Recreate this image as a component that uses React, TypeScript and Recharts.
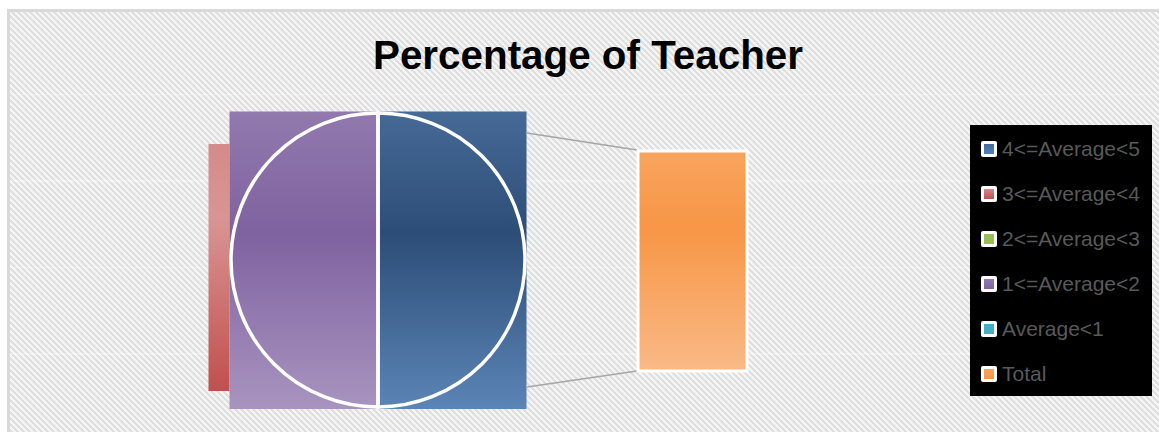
import React from "react";
import { PieChart, Pie, Legend, BarChart, Bar, XAxis, YAxis } from "recharts";

const categories = ["4<=Average<5", "3<=Average<4", "2<=Average<3", "1<=Average<2", "Average<1"];
const teacherPercent = [50, 0, 0, 50, 0];
const totalCategory = ["Total"];
const totalPercent = [100];

const legendLabels = [...categories, ...totalCategory];
const seriesColors = ["#4f81bd", "#c0504d", "#9bbb59", "#8064a2", "#4bacc6", "#f79646"];

// top / darkest / bottom stops of the office-style gradient fills
const gradientStops: Record<string, [string, string, string]> = {
  "#4f81bd": ["#466a96", "#2c4d77", "#5b85b6"],
  "#c0504d": ["#d48b89", "#d99593", "#c0504d"],
  "#8064a2": ["#9179ad", "#7f62a0", "#a894bf"],
  "#f79646": ["#f8a45e", "#f79646", "#f9b986"],
};

const pieData = categories.map((name, i) => ({ name, value: teacherPercent[i] }));
const barData = totalCategory.map((name, i) => ({ name, value: totalPercent[i] }));

const PIE_CX = 378;
const PIE_CY = 260;
const PIE_R = 147;
const BAR_LEFT = 636;
const BAR_TOP = 149;
const BAR_W = 113;
const BAR_H = 224;

function Grad({ id, color, mid = 0.41 }: { id: string; color: string; mid?: number }) {
  const s = gradientStops[color] || [color, color, color];
  return (
    <linearGradient id={id} x1="0" y1="0" x2="0" y2="1">
      <stop offset="0" stopColor={s[0]} />
      <stop offset={mid} stopColor={s[1]} />
      <stop offset="1" stopColor={s[2]} />
    </linearGradient>
  );
}

// excel drew these slices as filled boxes behind the outline, so do the same
function SliceBox(props: any) {
  const { cx, cy, outerRadius: r, startAngle, endAngle, payload } = props;
  if (Math.abs(endAngle - startAngle) < 0.01) return <g />;
  const idx = categories.indexOf(payload?.name ?? props.name);
  const color = seriesColors[idx];
  const xs: number[] = [cx];
  const ys: number[] = [cy];
  for (let k = 0; k <= 36; k++) {
    const a = (-(startAngle + ((endAngle - startAngle) * k) / 36) * Math.PI) / 180;
    xs.push(cx + r * Math.cos(a));
    ys.push(cy + r * Math.sin(a));
  }
  let x0 = Math.min(...xs);
  let x1 = Math.max(...xs);
  if (x0 < cx - 1) x0 -= 1.5;
  if (x1 > cx + 1) x1 += 1.5;
  const y0 = Math.min(...ys) - 1.5;
  const y1 = Math.max(...ys) + 2;
  const gid = `slice-grad-${idx}`;
  const stripColor = seriesColors[1];
  return (
    <g>
      <defs>
        <Grad id={gid} color={color} />
        <Grad id="strip-grad" color={stripColor} mid={0.3} />
      </defs>
      {idx === 3 && (
        <rect x={x0 - 21} y={cy - r + 31} width={21} height={2 * r - 47} fill="url(#strip-grad)" />
      )}
      <rect x={x0} y={y0} width={x1 - x0} height={y1 - y0} fill={`url(#${gid})`} />
    </g>
  );
}

function LegendBox() {
  return (
    <div
      style={{
        width: 182,
        height: 271,
        background: "#000",
        boxSizing: "border-box",
        paddingTop: 1,
        paddingLeft: 11,
      }}
    >
      {legendLabels.map((label, i) => (
        <div key={label} style={{ height: 45, display: "flex", alignItems: "center" }}>
          <div
            style={{
              width: 16,
              height: 16,
              background: "#fff",
              borderRadius: 2,
              display: "flex",
              alignItems: "center",
              justifyContent: "center",
              flex: "none",
            }}
          >
            <div
              style={{
                width: 10,
                height: 10,
                background: `linear-gradient(${(gradientStops[seriesColors[i]] || [])[0] || seriesColors[i]}, ${seriesColors[i]})`,
              }}
            />
          </div>
          <span
            style={{
              marginLeft: 5,
              color: "#595959",
              fontFamily: '"Liberation Sans", Arial, sans-serif',
              fontSize: 21,
              whiteSpace: "nowrap",
              lineHeight: 1,
            }}
          >
            {label}
          </span>
        </div>
      ))}
    </div>
  );
}

export default function App() {
  return (
    <div style={{ position: "absolute", left: 0, top: 0, width: 1159, height: 432, overflow: "hidden", background: "#fff" }}>
      <div
        style={{
          position: "absolute",
          left: 7,
          top: 9,
          width: 1170,
          height: 440,
          borderTop: "3px solid #d9d9d9",
          borderLeft: "3px solid #d9d9d9",
          backgroundColor: "#ececec",
          backgroundImage:
            "repeating-linear-gradient(180deg, transparent 0px, transparent 82px, rgba(255,255,255,0.3) 82px, rgba(255,255,255,0.3) 83px, transparent 83px, transparent 86.5px), repeating-linear-gradient(45deg, #f5f5f5 0px, #f5f5f5 2.12px, #dfdfdf 2.12px, #dfdfdf 4.2426px)",
        }}
      />
      <svg width={1159} height={432} style={{ position: "absolute", left: 0, top: 0 }}>
        <text
          x={588}
          y={69}
          textAnchor="middle"
          textLength={430}
          lengthAdjust="spacingAndGlyphs"
          fontFamily='"Liberation Sans", Arial, sans-serif'
          fontWeight="bold"
          fontSize={40}
          fill="#000"
        >
          Percentage of Teacher
        </text>
        <line x1={PIE_CX + PIE_R + 2} y1={133} x2={BAR_LEFT + 1} y2={BAR_TOP + 1} stroke="#a6a6a6" strokeWidth={1.5} />
        <line x1={PIE_CX + PIE_R + 2} y1={387} x2={BAR_LEFT + 1} y2={BAR_TOP + BAR_H - 2} stroke="#a6a6a6" strokeWidth={1.5} />
      </svg>
      <div style={{ position: "absolute", left: 0, top: 0 }}>
        <PieChart width={1159} height={432} margin={{ top: 0, right: 0, bottom: 0, left: 0 }}>
          <Pie
            data={pieData}
            dataKey="value"
            nameKey="name"
            cx={PIE_CX}
            cy={PIE_CY}
            outerRadius={PIE_R}
            startAngle={90}
            endAngle={-270}
            stroke="none"
            shape={SliceBox}
            isAnimationActive={false}
            legendType="none"
          />
          <Pie
            data={pieData}
            dataKey="value"
            nameKey="name"
            cx={PIE_CX}
            cy={PIE_CY}
            outerRadius={PIE_R}
            startAngle={90}
            endAngle={-270}
            fill="none"
            stroke="#ffffff"
            strokeWidth={3.5}
            isAnimationActive={false}
            legendType="none"
          />
          <Legend
            content={() => <LegendBox />}
            wrapperStyle={{ left: 970, top: 125, right: "auto", bottom: "auto", width: 182, height: 271 }}
          />
        </PieChart>
      </div>
      <div style={{ position: "absolute", left: BAR_LEFT, top: BAR_TOP }}>
        <BarChart
          width={BAR_W}
          height={BAR_H}
          data={barData}
          margin={{ top: 2, right: 2, bottom: 2, left: 2 }}
          barCategoryGap={0}
        >
          <defs>
            <Grad id="total-grad" color={seriesColors[5]} mid={0.35} />
          </defs>
          <XAxis dataKey="name" hide />
          <YAxis hide domain={[0, 100]} />
          <Bar dataKey="value" fill="url(#total-grad)" stroke="#fff" strokeWidth={3} isAnimationActive={false} />
        </BarChart>
      </div>
    </div>
  );
}
